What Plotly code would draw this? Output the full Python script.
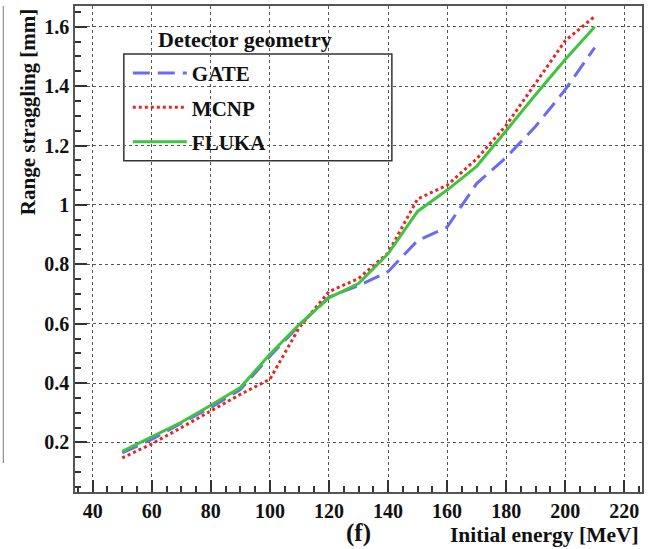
import plotly.graph_objects as go

energy = [50, 60, 70, 80, 90, 100, 110, 120, 130, 140, 150, 160, 170, 180, 190, 200, 210]
gate = [0.165, 0.21, 0.265, 0.318, 0.378, 0.49, 0.595, 0.69, 0.728, 0.775, 0.88, 0.925, 1.072, 1.16, 1.265, 1.388, 1.53]
mcnp = [0.148, 0.195, 0.25, 0.307, 0.362, 0.413, 0.588, 0.708, 0.752, 0.838, 1.02, 1.066, 1.155, 1.268, 1.41, 1.553, 1.635]
fluka = [0.17, 0.218, 0.268, 0.325, 0.385, 0.497, 0.598, 0.687, 0.735, 0.835, 0.978, 1.05, 1.13, 1.25, 1.372, 1.49, 1.6]

FONT = "Liberation Serif"
W, H = 648, 549
ML, MR, MT, MB = 75, 4, 5, 57
PW, PH = W - ML - MR, H - MT - MB


def px(x):
    return (x - ML) / PW


def py(y):
    return (H - MB - y) / PH


fig = go.Figure()
fig.add_trace(go.Scatter(x=energy, y=gate, mode="lines", name="GATE", legendgroup="g",
                         line=dict(color="#6b6bf2", width=3, dash="17px,8px")))
fig.add_trace(go.Scatter(x=energy, y=mcnp, mode="lines", name="MCNP", legendgroup="m",
                         line=dict(color="#ee2222", width=3, dash="3px,3px")))
fig.add_trace(go.Scatter(x=energy, y=fluka, mode="lines", name="FLUKA", legendgroup="f",
                         line=dict(color="#3ec43e", width=3)))

axis_common = dict(
    showline=True, mirror=True, linecolor="#555555", linewidth=1.5,
    showgrid=True, gridcolor="#555555", gridwidth=1, griddash="dot",
    ticks="inside", ticklen=12, tickwidth=1.5, tickcolor="#333333",
    tickfont=dict(family=FONT, size=20, color="#111111", weight="bold"),
    zeroline=False,
)

fig.update_xaxes(range=[34, 226], tick0=0, dtick=20,
                 minor=dict(ticks="inside", ticklen=6, tickwidth=1.5, tickcolor="#333333", dtick=5, showgrid=False),
                 **axis_common)
fig.update_yaxes(range=[0.033, 1.67], tick0=0, dtick=0.2,
                 minor=dict(ticks="inside", ticklen=6, tickwidth=1.5, tickcolor="#333333", dtick=0.05, showgrid=False),
                 **axis_common)

fig.update_layout(
    width=W, height=H,
    margin=dict(l=ML, r=MR, t=MT, b=MB),
    paper_bgcolor="white", plot_bgcolor="white",
    showlegend=True,
    legend=dict(x=px(128), y=py(52), xanchor="left", yanchor="top",
                bgcolor="rgba(0,0,0,0)", borderwidth=0,
                font=dict(family=FONT, size=21, color="#111111", weight="bold"),
                tracegroupgap=4, itemwidth=54, traceorder="grouped"),
    shapes=[
        dict(type="rect", xref="paper", yref="paper", x0=px(124), x1=px(393), y0=py(160), y1=py(53),
             line=dict(color="#333333", width=1.5), fillcolor="white", layer="below"),
        dict(type="line", xref="paper", yref="paper", x0=px(3), x1=px(3), y0=py(463), y1=py(5),
             line=dict(color="#777777", width=1)),
    ],
    annotations=[
        dict(text="Detector geometry", xref="paper", yref="paper", x=px(245.5), y=py(39),
             xanchor="center", yanchor="middle", showarrow=False,
             font=dict(family=FONT, size=22, color="#111111", weight="bold")),
        dict(text="Range straggling [mm]", xref="paper", yref="paper", x=px(28), y=py(6),
             xanchor="center", yanchor="top", textangle=-90, showarrow=False,
             font=dict(family=FONT, size=21, color="#111111", weight="bold")),
        dict(text="Initial energy [MeV]", xref="paper", yref="paper", x=px(643), y=py(535),
             xanchor="right", yanchor="middle", showarrow=False,
             font=dict(family=FONT, size=21.5, color="#111111", weight="bold")),
        dict(text="(f)", xref="paper", yref="paper", x=px(359), y=py(533),
             xanchor="center", yanchor="middle", showarrow=False,
             font=dict(family=FONT, size=25, color="#111111", weight="bold")),
    ],
)

fig.write_html("out.html")
